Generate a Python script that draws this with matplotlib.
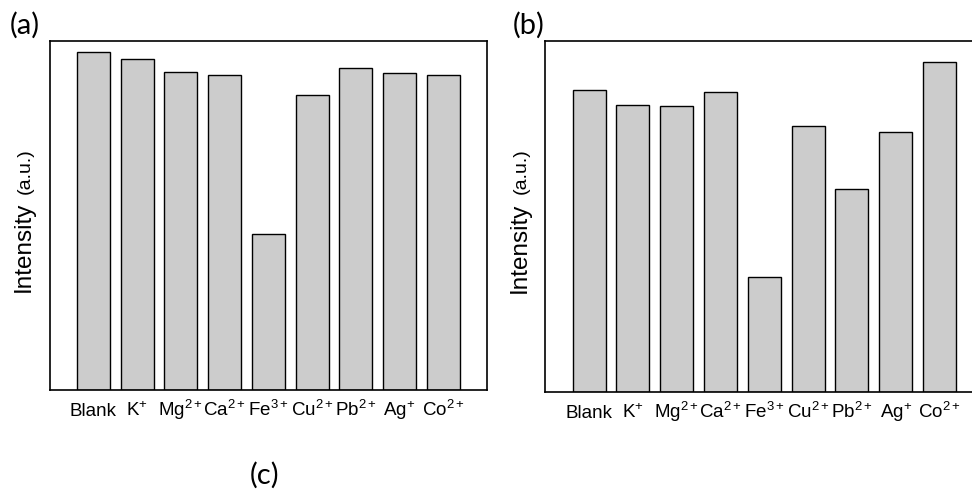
import numpy as np
import matplotlib
matplotlib.use('Agg')
import matplotlib.pyplot as plt

plt.rcParams['font.family'] = ['Liberation Sans', 'DejaVu Sans']
plt.rcParams['mathtext.fontset'] = 'custom'
plt.rcParams['mathtext.rm'] = 'Liberation Sans'
plt.rcParams['mathtext.it'] = 'Liberation Sans'

ions = ['Blank', 'K$^{+}$', 'Mg$^{2+}$', 'Ca$^{2+}$', 'Fe$^{3+}$',
        'Cu$^{2+}$', 'Pb$^{2+}$', 'Ag$^{+}$', 'Co$^{2+}$']
intensity_a = [96.9, 94.8, 91.1, 90.1, 44.6, 84.4, 92.2, 90.7, 90.1]
intensity_b = [85.9, 81.8, 81.3, 85.5, 32.8, 75.6, 57.7, 74.0, 93.8]

fig = plt.figure(figsize=(9.72, 4.90), dpi=100)
ax_a = fig.add_axes([0.0511, 0.204, 0.450, 0.713])
ax_b = fig.add_axes([0.561, 0.2006, 0.4506, 0.7164])

def draw_panel(ax, vals):
    x = np.arange(len(ions))
    ax.bar(x, vals, width=0.75, color='#cccccc', edgecolor='black', linewidth=1.0)
    ax.set_xlim(-1, len(ions))
    ax.set_ylim(0, 100)
    ax.set_xticks(x)
    ax.set_xticklabels(ions, fontsize=13.5)
    for lab in ax.get_xticklabels():
        lab.set_verticalalignment('baseline')
    ax.set_yticks([])
    ax.tick_params(axis='x', length=0, pad=19)
    for s in ax.spines.values():
        s.set_linewidth(1.2)
    # y label: big "Intensity" + small "(a.u.)", same baseline
    ax.text(-0.045, 0.41, 'Intensity', rotation=90, fontsize=17.5,
            rotation_mode='anchor', ha='center', va='baseline',
            transform=ax.transAxes)
    ax.text(-0.045, 0.627, '(a.u.)', rotation=90, fontsize=14,
            rotation_mode='anchor', ha='center', va='baseline',
            transform=ax.transAxes)

draw_panel(ax_a, intensity_a)
draw_panel(ax_b, intensity_b)

lab_font = ['Lato', 'DejaVu Sans']
fig.text(0.0103, 0.948, '(a)', fontsize=21, family=lab_font, ha='left', va='center')
fig.text(0.528, 0.948, '(b)', fontsize=21, family=lab_font, ha='left', va='center')
fig.text(0.257, 0.0296, '(c)', fontsize=21, family=lab_font, ha='left', va='center')

plt.savefig('out.png', dpi=100)
